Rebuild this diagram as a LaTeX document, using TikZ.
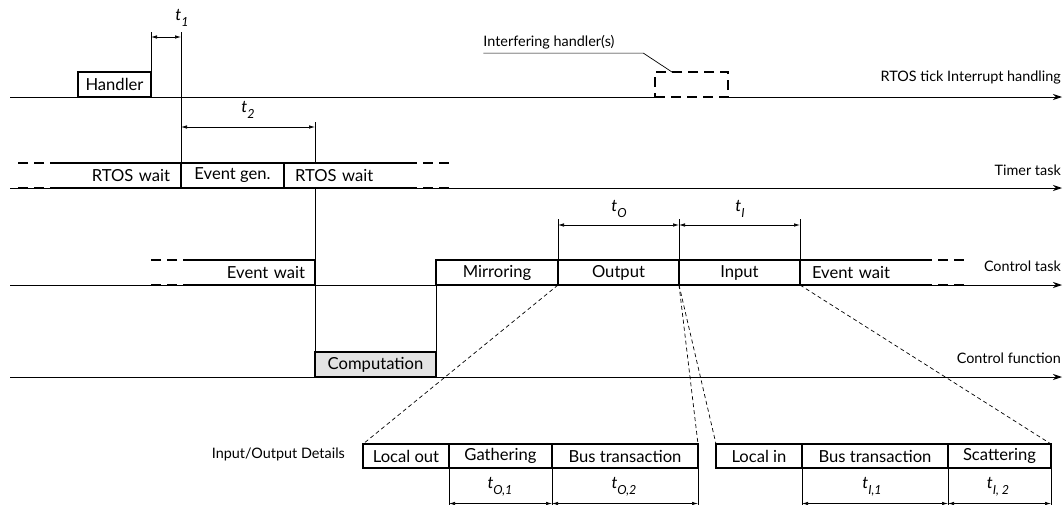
\documentclass[tikz,border=0pt]{standalone}
\usepackage{fontspec}
\setmainfont{Lato}
\usetikzlibrary{arrows.meta,positioning}

\newcommand{\boxfont}{\fontsize{16.6}{19}\selectfont}
\newcommand{\sidefont}{\fontsize{14.4}{17}\selectfont}
\newcommand{\tlab}[1]{\textit{t}\raisebox{-0.7ex}{\fontsize{12.5}{12.5}\selectfont\textit{#1}}}

\begin{document}
\begin{tikzpicture}[x=1pt,y=-1pt,
    box/.style={draw,line width=1.8pt,minimum height=25pt,inner sep=0pt,outer sep=0pt,font=\boxfont},
    openbox/.style={minimum height=25pt,inner sep=0pt,outer sep=0pt,font=\boxfont},
    boxline/.style={line width=1.8pt},
    ext/.style={line width=1.8pt,dash pattern=on 10pt off 6pt},
    axis/.style={line width=0.9pt,-{Stealth[length=9pt,width=6pt]}},
    guide/.style={line width=0.7pt},
    dim/.style={line width=0.7pt,{Latex[length=6pt,width=3.5pt]}-{Latex[length=6pt,width=3.5pt]}},
    zoom/.style={line width=0.7pt,dash pattern=on 4pt off 3pt},
    side/.style={font=\sidefont,anchor=east,inner sep=0pt},
    lab/.style={font=\boxfont,inner sep=0pt}]
    \useasboundingbox (0,0) rectangle (1063,504);

    % Levels
    \coordinate (t1y) at (0,37);
    \coordinate (t2y) at (0,127);
    \coordinate (tOy) at (0,225);
    \coordinate (dety) at (0,503.5);
    \coordinate (ax1) at (10,97);
    \coordinate (ax1e) at (1062,97);
    \coordinate (ax2) at (10,188);
    \coordinate (ax2e) at (1062,188);
    \coordinate (ax3) at (10,285);
    \coordinate (ax3e) at (1062,285);
    \coordinate (ax4) at (10,377);
    \coordinate (ax4e) at (1062,377);

    % Axis labels
    \node (irqaxis) at (1061,78) [side] {RTOS tick Interrupt handling};
    \node (timeraxis) at (1061,170) [side] {Timer task};
    \node (ctrlaxis) at (1061,266) [side] {Control task};
    \node (funaxis) at (1061,358) [side] {Control function};
    \node (iodet) at (345,454) [side] {Input/Output Details};

    % Interrupt level
    \node (handler) at (78,97) [box,minimum width=73pt,anchor=south west] {Handler};
    \node (irq) at (655,97) [box,dash pattern=on 10pt off 6pt,minimum width=73pt,anchor=south west] {};
    \node (irqlab) at (549,42) [lab,font=\sidefont] {Interfering handler(s)};
    \draw[guide] ([yshift=-4pt]irqlab.south west) -- ++(160,0) -- ([xshift=17pt]irq.north west);
    \draw[guide] (ax1) -- (irq.south west);
    \draw[axis] (irq.south east) -- (ax1e);

    % Timer task
    \draw[axis] (ax2) -- (ax2e);
    \node (evgen) at (181,188) [box,minimum width=103pt,anchor=south west] {Event gen.};
    \node (rtosA) [openbox,left=0pt of evgen,text width=99pt,inner xsep=11pt,align=right] {RTOS wait};
    \node (rtosB) [openbox,right=0pt of evgen,text width=101pt,inner xsep=11pt,align=left] {RTOS wait};
    \draw[boxline] (rtosA.north west) -- (rtosA.north east) (rtosA.south west) -- (rtosA.south east);
    \draw[boxline] (rtosB.north west) -- (rtosB.north east) (rtosB.south west) -- (rtosB.south east);
    \draw[ext] (rtosA.north west) -- ++(-43,0) (rtosA.south west) -- ++(-43,0);
    \draw[ext] (rtosB.north east) -- ++(42,0) (rtosB.south east) -- ++(42,0);

    % Control task
    \draw[axis] (ax3) -- (ax3e);
    \node (evwaitA) at (315,285) [openbox,anchor=south east,text width=102pt,inner xsep=10pt,align=right] {Event wait};
    \node (mirror) at (436,285) [box,minimum width=122pt,anchor=south west] {Mirroring};
    \node (output) [box,minimum width=121pt,right=0pt of mirror] {Output};
    \node (input) [box,minimum width=121pt,right=0pt of output] {Input};
    \node (evwaitB) [openbox,right=0pt of input,text width=98pt,inner xsep=12pt,align=left] {Event wait};
    \draw[boxline] (evwaitA.north west) -- (evwaitA.north east) -- (evwaitA.south east) -- (evwaitA.south west);
    \draw[boxline] (evwaitB.north west) -- (evwaitB.north east) (evwaitB.south west) -- (evwaitB.south east);
    \draw[ext] (evwaitA.north west) -- ++(-43,0) (evwaitA.south west) -- ++(-43,0);
    \draw[ext] (evwaitB.north east) -- ++(45,0) (evwaitB.south east) -- ++(45,0);

    % Control function
    \draw[axis] (ax4) -- (ax4e);
    \node (comp) at (315,377) [box,fill=gray!22,minimum width=121pt,anchor=south west] {Computation};

    % Input/Output details
    \node (lout) at (363,468) [box,minimum width=86pt,minimum height=24pt,anchor=south west] {Local out};
    \node (gath) [box,minimum width=103pt,minimum height=24pt,right=0pt of lout] {Gathering};
    \node (busO) [box,minimum width=146pt,minimum height=24pt,right=0pt of gath] {Bus transaction};
    \node (lin) at (716,468) [box,minimum width=86pt,minimum height=24pt,anchor=south west] {Local in};
    \node (busI) [box,minimum width=146pt,minimum height=24pt,right=0pt of lin] {Bus transaction};
    \node (scat) [box,minimum width=103pt,minimum height=24pt,right=0pt of busI] {Scattering};

    % Guides and times
    \draw[guide] (handler.north east) -- ++(0,-40);
    \draw[guide] (evgen.north west) -- ++(0,-131);
    \draw[dim] (handler.north east |- t1y) -- (evgen.north west |- t1y);
    \node (t1) at (182,18) [lab] {\tlab{1}};

    \draw[guide] (rtosB.north west -| comp.north west) -- ++(0,-41);
    \draw[guide] (rtosB.south west -| comp.north west) -- (comp.north west);
    \draw[guide] (mirror.south west) -- (comp.north east);
    \draw[dim] (evgen.north west |- t2y) -- (comp.north west |- t2y);
    \node (t2) at (248,110) [lab] {\tlab{2}};

    \draw[guide] (output.north west) -- ++(0,-41);
    \draw[guide] (output.north east) -- ++(0,-41);
    \draw[guide] (input.north east) -- ++(0,-41);
    \draw[dim] (output.north west |- tOy) -- (output.north east |- tOy);
    \draw[dim] (input.north west |- tOy) -- (input.north east |- tOy);
    \node (tO) at (619,209) [lab] {\tlab{O}};
    \node (tI) at (740,209) [lab] {\tlab{I}};

    % Zoom lines
    \draw[zoom] (output.south west) -- (lout.north west);
    \draw[zoom] (output.south east) -- (busO.north east);
    \draw[zoom] (output.south east) -- (lin.north west);
    \draw[zoom] (input.south east) -- (scat.north east);

    \foreach \n/\a in {gath/west,busO/west,busO/east,busI/west,busI/east,scat/east}
        \draw[guide] (\n.south \a) -- ++(0,40);
    \draw[dim] (gath.south west |- dety) -- (gath.south east |- dety);
    \draw[dim] (busO.south west |- dety) -- (busO.south east |- dety);
    \draw[dim] (busI.south west |- dety) -- (busI.south east |- dety);
    \draw[dim] (scat.south west |- dety) -- (scat.south east |- dety);
    \node (tO1) at (500,487) [lab] {\tlab{O,1}};
    \node (tO2) at (624,487) [lab] {\tlab{O,2}};
    \node (tI1) at (872,487) [lab] {\tlab{I,1}};
    \node (tI2) at (998,487) [lab] {\tlab{I, 2}};
\end{tikzpicture}
\end{document}
